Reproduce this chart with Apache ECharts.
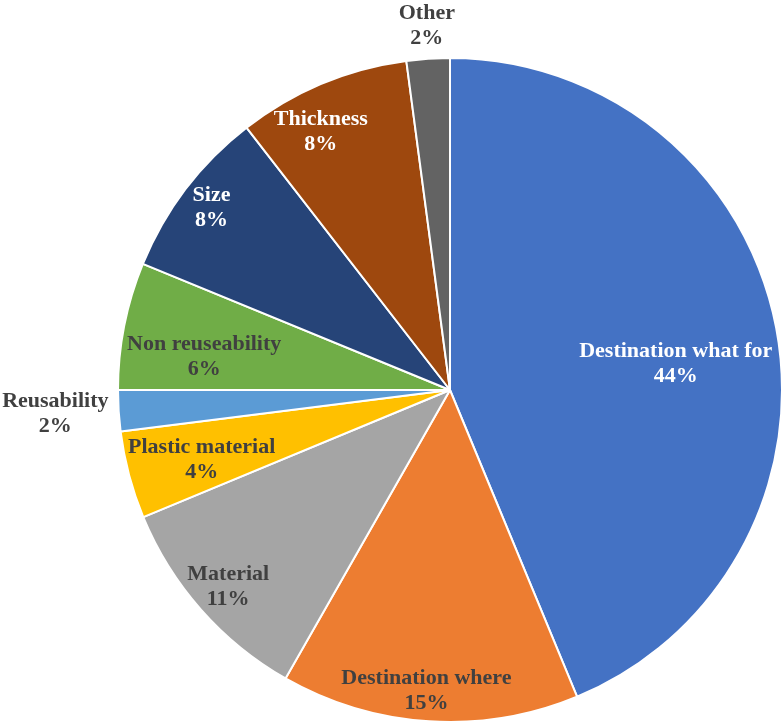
<!DOCTYPE html>
<html><head><meta charset="utf-8">
<script src="https://cdn.jsdelivr.net/npm/echarts@6/dist/echarts.min.js"></script>
<style>html,body{margin:0;padding:0;background:#fff}#c{width:782px;height:723px}</style>
</head><body><div id="c"></div>
<script>
const categories = ['Destination what for','Destination where','Material','Plastic material','Reusability','Non reuseability','Size','Thickness','Other'];
const values = [43.75, 14.5, 10.5, 4.25, 2.0, 6.2, 8.3, 8.4, 2.1];
const colors = ['#4472C4','#ED7D31','#A5A5A5','#FFC000','#5B9BD5','#70AD47','#264478','#9E480E','#636363'];
const labelColors = ['#ffffff','#404040','#404040','#404040','#404040','#404040','#ffffff','#ffffff','#404040'];
const labelOffsets = [[60,7],[-13,132],[-95,85],[-85,26],[-226,13],[-80,0],[-104,-80],[-64,-102],[-12,-196]];
const total = values.reduce((a,b)=>a+b,0);
const chart = echarts.init(document.getElementById('c'));
chart.setOption({
  animation:false,
  series:[{
    type:'pie',
    center:[450,390],
    radius:332,
    startAngle:90,
    clockwise:true,
    avoidLabelOverlap:false,
    itemStyle:{borderColor:'#fff',borderWidth:2},
    label:{position:'inside',fontFamily:'Liberation Serif',fontWeight:'bold',fontSize:22,lineHeight:25,align:'center',
      formatter:p=>p.name+'\n'+Math.round(p.value*100/total+1e-9)+'%'},
    labelLine:{show:false},
    data:categories.map((c,i)=>({name:c,value:values[i],itemStyle:{color:colors[i]},
      label:{color:labelColors[i],offset:labelOffsets[i]}}))
  }]
});
</script></body></html>
